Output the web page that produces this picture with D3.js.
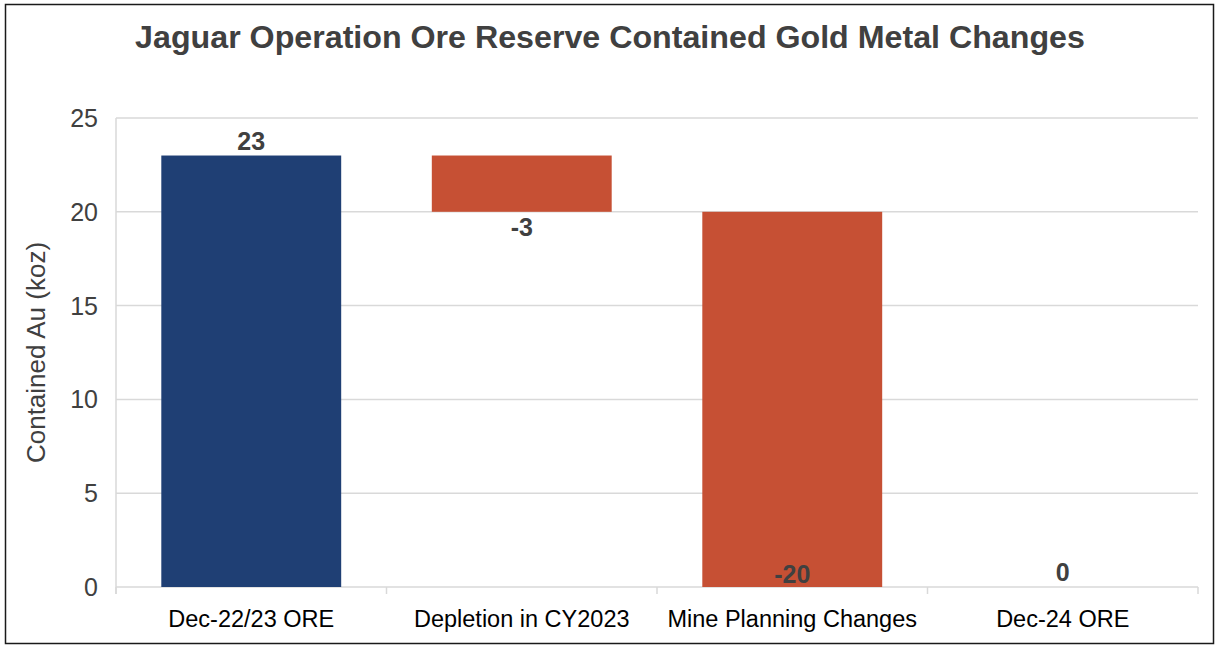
<!DOCTYPE html>
<html><head><meta charset="utf-8">
<script src="https://cdn.jsdelivr.net/npm/d3@7"></script>
<style>body{margin:0;background:#fff;} svg{display:block;}</style>
</head><body>
<svg id="chart" width="1216" height="647"></svg>
<script>
const categories = ["Dec-22/23 ORE", "Depletion in CY2023", "Mine Planning Changes", "Dec-24 ORE"];
const changes = [23, -3, -20, 0];
const kinds = ["total", "delta", "delta", "total"];
const yTicks = [0, 5, 10, 15, 20, 25];
const title = "Jaguar Operation Ore Reserve Contained Gold Metal Changes";
const yTitle = "Contained Au (koz)";

// build waterfall segments
let running = 0;
const segs = categories.map((c, i) => {
  let start, end;
  if (kinds[i] === "total") { start = 0; end = changes[i]; running = changes[i]; }
  else { start = running; end = running + changes[i]; running = end; }
  return {cat: c, value: changes[i], start, end, kind: kinds[i]};
});

const svg = d3.select("#chart");
const FONT = "Liberation Sans, Arial, sans-serif";
svg.append("rect").attr("x", 5.5).attr("y", 4.5).attr("width", 1208).attr("height", 639)
  .attr("fill", "#fff").attr("stroke", "#1a1a1a").attr("stroke-width", 1.5);

const plot = {left: 116, right: 1198, top: 118, bottom: 587};
const x = d3.scaleBand().domain(categories).range([plot.left, plot.right]).paddingInner(0.335).paddingOuter(0.1675);
const y = d3.scaleLinear().domain([0, 25]).range([plot.bottom, plot.top]);

// gridlines
svg.append("g").selectAll("line").data(yTicks).join("line")
  .attr("x1", plot.left).attr("x2", plot.right)
  .attr("y1", d => y(d)).attr("y2", d => y(d))
  .attr("stroke", "#d9d9d9").attr("stroke-width", 1.5);

// left vertical axis line
svg.append("line").attr("x1", plot.left).attr("x2", plot.left)
  .attr("y1", plot.top).attr("y2", plot.bottom + 7)
  .attr("stroke", "#d9d9d9").attr("stroke-width", 1.5);

// x ticks at band boundaries
const bounds = d3.range(categories.length + 1).map(i => plot.left + i * (plot.right - plot.left) / categories.length);
svg.append("g").selectAll("line").data(bounds).join("line")
  .attr("x1", d => d).attr("x2", d => d)
  .attr("y1", plot.bottom).attr("y2", plot.bottom + 7)
  .attr("stroke", "#d9d9d9").attr("stroke-width", 1.5);

// y tick labels
svg.append("g").selectAll("text").data(yTicks).join("text")
  .attr("x", 98).attr("y", d => y(d) + 9)
  .attr("text-anchor", "end")
  .attr("font-family", FONT).attr("font-size", 25)
  .attr("fill", "#404040").text(d => d);

// bars
svg.append("g").selectAll("rect").data(segs.filter(d => d.start !== d.end)).join("rect")
  .attr("x", d => x(d.cat)).attr("width", x.bandwidth())
  .attr("y", d => y(Math.max(d.start, d.end)))
  .attr("height", d => Math.abs(y(d.start) - y(d.end)))
  .attr("fill", d => d.kind === "total" ? "#1F3F74" : "#C65034");

// value labels
svg.append("g").selectAll("text").data(segs).join("text")
  .attr("x", d => x(d.cat) + x.bandwidth() / 2)
  .attr("y", d => {
    if (d.value >= 0) return y(Math.max(d.start, d.end)) - 6;
    return Math.min(y(Math.min(d.start, d.end)) + 24, plot.bottom - 4);
  })
  .attr("text-anchor", "middle")
  .attr("font-family", FONT).attr("font-size", 25).attr("font-weight", "bold")
  .attr("fill", "#404040").text(d => d.value);

// x labels
svg.append("g").selectAll("text").data(categories).join("text")
  .attr("x", d => x(d) + x.bandwidth() / 2).attr("y", 627)
  .attr("text-anchor", "middle")
  .attr("font-family", FONT).attr("font-size", 23.5)
  .attr("fill", "#000").text(d => d);

// y title
svg.append("text").attr("transform", `translate(45,${(plot.top + plot.bottom) / 2}) rotate(-90)`)
  .attr("text-anchor", "middle")
  .attr("font-family", FONT).attr("font-size", 26)
  .attr("fill", "#404040").text(yTitle);

// title
svg.append("text").attr("x", 610).attr("y", 48).attr("text-anchor", "middle")
  .attr("font-family", FONT).attr("font-size", 32.2).attr("font-weight", "bold")
  .attr("fill", "#404040").text(title);
</script>
</body></html>
